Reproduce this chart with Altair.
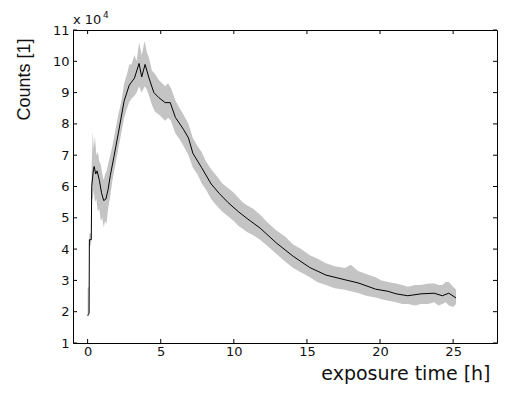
import altair as alt
import pandas as pd

# smoothed (black) curve, counts in units of 1e4
line_t = [0.0, 0.1, 0.12, 0.25, 0.28, 0.4, 0.45, 0.55, 0.65, 0.8, 0.95, 1.1, 1.25, 1.4, 1.55,
          1.8, 2.1, 2.5, 2.85, 3.2, 3.52, 3.7, 3.93, 4.2, 4.53, 4.87, 5.3, 5.65, 6.0, 6.55,
          6.9, 7.2, 7.8, 8.45, 9.0, 9.6, 10.3, 10.9, 11.8, 12.9, 14.06, 15.2, 16.3, 17.6,
          18.5, 19.7, 20.56, 21.1, 21.9, 22.8, 23.7, 24.26, 24.7, 25.2]
line_v = [1.88, 1.95, 4.3, 4.3, 6.0, 6.55, 6.64, 6.4, 6.5, 6.2, 5.8, 5.55, 5.6, 5.9, 6.35,
          6.95, 7.7, 8.74, 9.24, 9.46, 9.93, 9.5, 9.9, 9.46, 9.0, 8.84, 8.68, 8.68, 8.21, 7.83,
          7.55, 7.06, 6.6, 6.08, 5.78, 5.49, 5.2, 4.98, 4.67, 4.2, 3.77, 3.41, 3.17, 3.02,
          2.92, 2.72, 2.65, 2.57, 2.51, 2.57, 2.59, 2.51, 2.59, 2.44]

# raw scatter envelope (grey band)
band_t = [0.0, 0.1, 0.11, 0.25, 0.27, 0.35, 0.42, 0.5, 0.6, 0.7, 0.8, 0.9, 1.0, 1.1, 1.2,
          1.3, 1.4, 1.55, 1.7, 1.9, 2.1, 2.3, 2.5, 2.7, 2.85, 3.0, 3.2, 3.35, 3.52, 3.7,
          3.9, 4.05, 4.2, 4.4, 4.6, 4.87, 5.1, 5.3, 5.5, 5.7, 6.0, 6.3, 6.55, 6.9, 7.2,
          7.5, 7.8, 8.1, 8.45, 8.8, 9.2, 9.6, 10.0, 10.3, 10.6, 10.9, 11.3, 11.8, 12.3,
          12.9, 13.5, 14.06, 14.6, 15.2, 15.7, 16.3, 16.9, 17.6, 18.0, 18.5, 19.1, 19.7,
          20.1, 20.56, 21.1, 21.5, 21.9, 22.4, 22.8, 23.3, 23.7, 24.0, 24.26, 24.5, 24.7,
          25.0, 25.2]
band_lo = [1.85, 1.85, 4.0, 4.2, 5.6, 5.6, 5.9, 5.5, 5.6, 5.2, 5.3, 4.9, 5.0, 4.7, 4.9,
           4.8, 5.3, 5.7, 6.2, 6.7, 7.2, 7.7, 8.2, 8.5, 8.7, 8.8, 8.9, 9.0, 9.2, 9.0,
           9.2, 9.1, 8.9, 8.6, 8.4, 8.3, 8.2, 8.1, 8.2, 8.1, 7.7, 7.5, 7.3, 7.0, 6.6,
           6.4, 6.1, 5.9, 5.6, 5.4, 5.2, 5.05, 4.9, 4.75, 4.65, 4.55, 4.45, 4.3, 4.1,
           3.85, 3.6, 3.4, 3.25, 3.1, 2.95, 2.85, 2.75, 2.7, 2.65, 2.6, 2.5, 2.45,
           2.4, 2.35, 2.3, 2.25, 2.25, 2.2, 2.25, 2.25, 2.3, 2.2, 2.25, 2.3, 2.2,
           2.15, 2.25]
band_hi = [2.75, 2.8, 4.5, 4.5, 6.6, 7.75, 7.2, 7.6, 7.0, 7.1, 6.8, 6.7, 6.4, 6.2, 6.4,
           6.5, 6.7, 7.0, 7.3, 7.8, 8.3, 8.7, 9.3, 9.6, 9.9, 9.9, 10.2, 10.0, 10.6, 10.2,
           10.65, 10.3, 10.1, 9.7, 9.6, 9.4, 9.3, 9.2, 9.3, 9.15, 8.75, 8.5, 8.3, 8.0, 7.55,
           7.3, 7.1, 6.8, 6.55, 6.35, 6.1, 5.95, 5.8, 5.65, 5.5, 5.4, 5.3, 5.1, 4.85,
           4.6, 4.4, 4.15, 4.0, 3.8, 3.7, 3.55, 3.45, 3.4, 3.5, 3.3, 3.2, 3.1,
           3.0, 2.95, 2.9, 2.85, 2.8, 2.85, 2.85, 2.9, 2.9, 2.85, 2.85, 2.95, 2.95,
           2.8, 2.7]

x_ticks = [0, 5, 10, 15, 20, 25]
y_ticks = [1, 2, 3, 4, 5, 6, 7, 8, 9, 10, 11]

W, H = 424, 313
TXT = "#111111"

xs = alt.Scale(domain=[-1, 28], nice=False, zero=False)
ys = alt.Scale(domain=[1, 11], nice=False, zero=False)

xaxis = alt.Axis(values=x_ticks, title="exposure time [h]", grid=False, domain=False,
                 ticks=False, tickSize=0, labelPadding=2, labelFont="DejaVu Sans",
                 labelFontSize=13, labelColor=TXT, labelFlush=False, labelOverlap=False,
                 titleFont="DejaVu Sans", titleFontSize=19, titleFontWeight="normal",
                 titleColor=TXT, titleAlign="right", titleBaseline="alphabetic",
                 titleX=W - 7, titleY=36)
yaxis = alt.Axis(values=y_ticks, title="Counts [1]", grid=False, domain=False,
                 ticks=False, tickSize=0, labelPadding=4, labelFont="DejaVu Sans",
                 labelFontSize=13, labelColor=TXT, labelFlush=False, labelOverlap=False,
                 format="d", titleFont="Liberation Sans", titleFontSize=18,
                 titleFontWeight="normal", titleColor=TXT, titleAngle=270,
                 titleAlign="right", titleBaseline="bottom", titleX=-40, titleY=8)

X = alt.X("t:Q", scale=xs, axis=xaxis)
Y = alt.Y("v:Q", scale=ys, axis=yaxis)

band_df = pd.DataFrame({"t": band_t, "v": band_lo, "hi": band_hi})
line_df = pd.DataFrame({"t": line_t, "v": line_v})
xt_df = pd.DataFrame({"t": x_ticks})
yt_df = pd.DataFrame({"v": y_ticks})

band = alt.Chart(band_df).mark_area(color="#c4c4c4", opacity=1).encode(
    x=X, y=Y, y2="hi:Q")
line = alt.Chart(line_df).mark_line(color="black", strokeWidth=1).encode(x=X, y=Y)

tk = dict(color="black", strokeWidth=1)
xt_bottom = alt.Chart(xt_df).mark_rule(**tk).encode(x=X, y=alt.value(H), y2=alt.value(H - 4))
xt_top = alt.Chart(xt_df).mark_rule(**tk).encode(x=X, y=alt.value(0), y2=alt.value(4))
yt_left = alt.Chart(yt_df).mark_rule(**tk).encode(y=Y, x=alt.value(0), x2=alt.value(4))
yt_right = alt.Chart(yt_df).mark_rule(**tk).encode(y=Y, x=alt.value(W - 4), x2=alt.value(W))

mult = alt.Chart(pd.DataFrame({"s": ["x 10"]})).mark_text(
    font="DejaVu Sans", fontSize=13, color=TXT, align="left", baseline="alphabetic"
).encode(x=alt.value(0), y=alt.value(-6), text="s:N")
expo = alt.Chart(pd.DataFrame({"s": ["4"]})).mark_text(
    font="DejaVu Sans", fontSize=9, color=TXT, align="left", baseline="alphabetic"
).encode(x=alt.value(30), y=alt.value(-12), text="s:N")

chart = alt.layer(band, line, xt_bottom, xt_top, yt_left, yt_right, mult, expo).properties(
    width=W, height=H,
    autosize=alt.AutoSizeParams(type="none"),
    padding={"left": 65, "top": 22, "right": 1, "bottom": 41},
).configure(background="white", view=alt.ViewConfig(stroke="black", strokeWidth=1))

chart.save("out.html", embed_options={"renderer": "svg", "actions": False})
